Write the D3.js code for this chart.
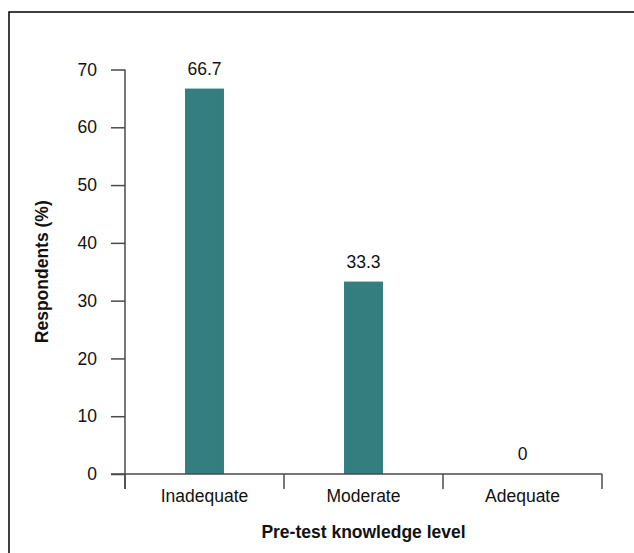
<!DOCTYPE html>
<html>
<head>
<meta charset="utf-8">
<script src="https://cdn.jsdelivr.net/npm/d3@7"></script>
<style>
  body { margin: 0; background: #fff; }
  svg { display: block; font-family: "Liberation Sans", Arial, sans-serif; }
</style>
</head>
<body>
<svg id="chart" width="634" height="553"></svg>
<script>
// chart data
var categories = ["Inadequate", "Moderate", "Adequate"];
var values = [66.7, 33.3, 0];
var valueLabels = ["66.7", "33.3", "0"];
var yTicks = [0, 10, 20, 30, 40, 50, 60, 70];

var svg = d3.select("#chart"),
    plotLeft = 125,
    plotRight = 602,
    plotTop = 69.5,
    plotBottom = 474,
    fontSize = "17.5px",
    axisColor = "#4a4a4a",
    barColor = "#347e80";

// outer frame (right and bottom run off the picture)
svg.append("rect")
  .attr("x", 9)
  .attr("y", 12)
  .attr("width", 700)
  .attr("height", 600)
  .attr("fill", "none")
  .attr("stroke", "#000")
  .attr("stroke-width", 1.5);

var x = d3.scaleBand().domain(categories).range([plotLeft, plotRight]).padding(0);
var y = d3.scaleLinear().domain([0, 70]).range([plotBottom, plotTop]);

var barW = x.bandwidth() * 0.245;

// bars
svg.append("g").selectAll("rect")
  .data(values)
  .enter().append("rect")
  .attr("x", function(d, i) { return x(categories[i]) + x.bandwidth() / 2 - barW / 2; })
  .attr("y", function(d) { return y(d); })
  .attr("width", barW)
  .attr("height", function(d) { return plotBottom - y(d); })
  .attr("fill", barColor);

// value labels
svg.append("g").selectAll("text")
  .data(values)
  .enter().append("text")
  .attr("x", function(d, i) { return x(categories[i]) + x.bandwidth() / 2; })
  .attr("y", function(d) { return y(d) - 14; })
  .attr("text-anchor", "middle")
  .style("font-size", fontSize)
  .attr("fill", "#111")
  .text(function(d, i) { return valueLabels[i]; });

// y axis
var yAxis = svg.append("g")
  .attr("transform", "translate(" + plotLeft + ",0)")
  .call(d3.axisLeft(y).tickValues(yTicks).tickSize(14).tickPadding(14).tickFormat(d3.format("d")));
yAxis.select(".domain").attr("d", "M0," + plotTop + "V" + (plotBottom + 15));

// x axis with ticks at band edges
var xAxis = svg.append("g")
  .attr("transform", "translate(0," + plotBottom + ")");
xAxis.append("line")
  .attr("x1", plotLeft - 14).attr("x2", plotRight)
  .attr("y1", 0).attr("y2", 0);
xAxis.selectAll(".edge")
  .data(categories.concat([null]))
  .enter().append("line")
  .attr("class", "edge")
  .attr("x1", function(d) { return d === null ? plotRight : x(d); })
  .attr("x2", function(d) { return d === null ? plotRight : x(d); })
  .attr("y1", 0).attr("y2", 15);
xAxis.selectAll("text")
  .data(categories)
  .enter().append("text")
  .attr("x", function(d) { return x(d) + x.bandwidth() / 2; })
  .attr("y", 28)
  .attr("text-anchor", "middle")
  .style("font-size", fontSize)
  .attr("fill", "#111")
  .text(function(d) { return d; });
xAxis.selectAll("line").attr("stroke", axisColor).attr("stroke-width", 1.5);

yAxis.selectAll("path, line").attr("stroke", axisColor).attr("stroke-width", 1.5);
yAxis.selectAll("text").style("font-size", fontSize).attr("fill", "#111")
  .style("font-family", "'Liberation Sans', Arial, sans-serif");

// axis titles
svg.append("text")
  .attr("x", x(categories[1]) + x.bandwidth() / 2)
  .attr("y", 538)
  .attr("text-anchor", "middle")
  .style("font-size", fontSize)
  .style("font-weight", "bold")
  .attr("fill", "#111")
  .text("Pre-test knowledge level");

svg.append("text")
  .attr("transform", "translate(48," + ((plotTop + plotBottom) / 2) + ")rotate(-90)")
  .attr("text-anchor", "middle")
  .style("font-size", fontSize)
  .style("font-weight", "bold")
  .attr("fill", "#111")
  .text("Respondents (%)");
</script>
</body>
</html>
